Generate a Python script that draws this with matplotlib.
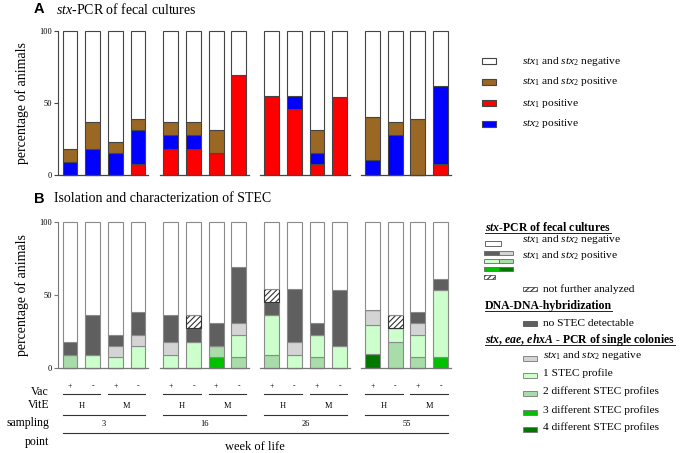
import numpy as np
import matplotlib
matplotlib.use('Agg')
import matplotlib.pyplot as plt
from matplotlib.patches import Rectangle
from matplotlib.transforms import blended_transform_factory

plt.rcParams['font.family'] = 'Liberation Serif'
plt.rcParams['mathtext.fontset'] = 'custom'
plt.rcParams['mathtext.rm'] = 'Liberation Serif'
plt.rcParams['mathtext.it'] = 'Liberation Serif:italic'
plt.rcParams['mathtext.bf'] = 'Liberation Serif:bold'
plt.rcParams['mathtext.bfit'] = 'Liberation Serif:bold:italic'
plt.rcParams['hatch.linewidth'] = 0.8

weeks = ['3', '16', '26', '55']
vite = ['H', 'M']
vac = ['+', '-']

# panel A: % of animals, 16 bars (week x VitE x Vac)
a_stx1 = [0, 0, 0, 7.7, 18.2, 18.2, 15.4, 69.2, 54.5, 45.5, 7.7, 53.8, 0, 0, 0, 7.7]
a_stx2 = [9.1, 18.2, 15.4, 23.1, 9.1, 9.1, 0, 0, 0, 9.1, 7.7, 0, 10, 27.3, 0, 53.8]
a_both = [9.1, 18.2, 7.7, 7.7, 9.1, 9.1, 15.4, 0, 0, 0, 15.4, 0, 30, 9.1, 38.5, 0]

# panel B
b_prof4 = [0, 0, 0, 0, 0, 0, 0, 0, 0, 0, 0, 0, 10, 0, 0, 0]
b_prof3 = [0, 0, 0, 0, 0, 0, 7.7, 0, 0, 0, 0, 0, 0, 0, 0, 7.7]
b_prof2 = [9.1, 0, 0, 0, 0, 0, 7.7, 7.7, 9.1, 0, 7.7, 0, 0, 18.2, 7.7, 0]
b_prof1 = [0, 9.1, 7.7, 15.4, 9.1, 18.2, 0, 15.4, 27.3, 9.1, 15.4, 15.4, 20, 9.1, 15.4, 46.1]
b_neg = [0, 0, 7.7, 7.7, 9.1, 0, 0, 7.7, 0, 9.1, 0, 0, 10, 0, 7.7, 0]
b_nostec = [9.1, 27.3, 7.7, 15.4, 18.2, 9.1, 15.4, 38.5, 9.1, 36.4, 7.7, 38.5, 0, 0, 7.7, 7.7]
b_nfa = [0, 0, 0, 0, 0, 9.1, 0, 0, 9.1, 0, 0, 0, 0, 9.1, 0, 0]

BROWN, RED, BLUE = '#9a6824', '#ff0000', '#0000ff'
DGRAY, LGRAY = '#5f5f5f', '#d4d4d4'
G1, G2, G3, G4 = '#ccffcc', '#a8dca8', '#00c000', '#007800'

x = np.array([g * 4.45 + i for g in range(4) for i in range(4)])
W = 0.66
FS = 8.2  # legend text size

fig = plt.figure(figsize=(6.85, 4.53), dpi=100)
ov = fig.add_axes([0, 0, 1, 1])
ov.set_xlim(0, 685)
ov.set_ylim(453, 0)
ov.set_axis_off()

ax_a = fig.add_axes([58 / 685, 1 - 174.7 / 453, 397 / 685, 143.7 / 453])
ax_b = fig.add_axes([58 / 685, 1 - 368.3 / 453, 397 / 685, 146 / 453])


def stack(ax, layers, edge):
    bottom = np.zeros(len(x))
    for vals, col, hatch in layers:
        vals = np.array(vals, dtype=float)
        ec = '#333333' if hatch else edge
        ax.bar(x, vals, W, bottom=bottom, color=col, edgecolor=ec, lw=0.8,
               hatch=hatch, clip_on=False)
        bottom += vals
    ax.bar(x, 100 - bottom, W, bottom=bottom, color='white', edgecolor=edge,
           lw=0.8, clip_on=False)


stack(ax_a, [(a_stx1, RED, None), (a_stx2, BLUE, None), (a_both, BROWN, None)], '#444444')
stack(ax_b, [(b_prof4, G4, None), (b_prof3, G3, None), (b_prof2, G2, None),
             (b_prof1, G1, None), (b_neg, LGRAY, None), (b_nostec, DGRAY, None),
             (b_nfa, 'white', '//////')], '#8a8a8a')

for ax, col in ((ax_a, '#444444'), (ax_b, '#777777')):
    ax.set_xlim(-0.53, 16.99)
    ax.set_ylim(0, 100)
    for s in ('top', 'right', 'bottom'):
        ax.spines[s].set_visible(False)
    ax.spines['left'].set_color(col)
    ax.spines['left'].set_linewidth(0.8)
    ax.set_xticks([])
    ax.set_yticks([0, 50, 100])
    ax.tick_params(axis='y', labelsize=6, length=3, width=0.8, color=col, pad=1.5)
    for g in range(4):
        ax.plot([g * 4.45 - 0.5, g * 4.45 + 3.45], [0, 0], color=col, lw=0.9,
                clip_on=False)
    ax.set_ylabel('percentage of animals', fontsize=10)
    ax.yaxis.set_label_coords(-0.072, 0.5)

# panel titles
ov.text(34, 9, 'A', family='Liberation Sans', weight='bold', size=10.5, va='center')
ov.text(56, 9, r'$\mathit{stx}$-PCR of fecal cultures', size=10, va='center')
ov.text(34, 199, 'B', family='Liberation Sans', weight='bold', size=10.5, va='center')
ov.text(54, 199, 'Isolation and characterization of STEC', size=10, va='center')

# legend A
neg = r'$\mathit{stx}_1$ and $\mathit{stx}_2$ negative'
leg_a = [(neg, 'white'),
         (r'$\mathit{stx}_1$ and $\mathit{stx}_2$ positive', BROWN),
         (r'$\mathit{stx}_1$ positive', RED),
         (r'$\mathit{stx}_2$ positive', BLUE)]
for row, (lab, col) in enumerate(leg_a):
    y = 61 + row * 21
    ov.add_patch(Rectangle((482, y - 3), 14, 6, fc=col, ec='#444444', lw=0.8))
    ov.text(522, y, lab, size=FS, va='center')

# legend B
heads = []
heads.append(ov.text(485, 231, r'$\mathbfit{stx}$-PCR of fecal cultures',
                     size=8.5, weight='bold', va='baseline'))
ov.add_patch(Rectangle((485, 241), 16, 5, fc='white', ec='#666666', lw=0.7))
ov.text(522, 239, neg, size=FS, va='center')
for yy, (c1, c2) in zip([251, 259, 267], [(DGRAY, LGRAY), (G1, G2), (G3, G4)]):
    ov.add_patch(Rectangle((484, yy), 15, 4, fc=c1, ec='#666666', lw=0.6))
    ov.add_patch(Rectangle((499, yy), 14, 4, fc=c2, ec='#666666', lw=0.6))
ov.add_patch(Rectangle((484, 275), 11, 3.5, fc='white', ec='#333333', lw=0.5, hatch='//////'))
ov.text(522, 256, r'$\mathit{stx}_1$ and $\mathit{stx}_2$ positive', size=FS, va='center')

ov.add_patch(Rectangle((523, 287), 14, 4, fc='white', ec='#333333', lw=0.5, hatch='//////'))
ov.text(543, 289, 'not further analyzed', size=FS, va='center')

heads.append(ov.text(485, 309, 'DNA-DNA-hybridization', size=8.5, weight='bold',
                     va='baseline'))
ov.add_patch(Rectangle((523, 321), 14, 5, fc=DGRAY, ec='#555555', lw=0.6))
ov.text(543, 323, 'no STEC detectable', size=FS, va='center')

heads.append(ov.text(485, 343,
                     r'$\mathbfit{stx}$, $\mathbfit{eae}$, $\mathbfit{ehxA}$ - PCR of single colonies',
                     size=8.5, weight='bold', va='baseline'))
leg_b = [(neg, LGRAY), ('1 STEC profile', G1), ('2 different STEC profiles', G2),
         ('3 different STEC profiles', G3), ('4 different STEC profiles', G4)]
for (lab, col), yy in zip(leg_b, [356, 373, 391, 410, 427]):
    ov.add_patch(Rectangle((523, yy), 14, 4.5, fc=col, ec='#777777', lw=0.6))
    ov.text(543, yy, lab, size=FS, va='center')

# grouping rows under panel B
tr = blended_transform_factory(ax_b.transData, ov.transData)
kw = dict(color='#333333', lw=0.8, clip_on=False, transform=tr)
for k, xk in enumerate(x):
    ax_b.text(xk, 386, vac[k % 2], size=5.5, ha='center', va='center', transform=tr)
for p in range(8):
    ax_b.plot([x[2 * p] - W / 2, x[2 * p + 1] + W / 2], [394, 394], **kw)
    ax_b.text((x[2 * p] + x[2 * p + 1]) / 2, 406, vite[p % 2], size=6,
              ha='center', va='center', transform=tr)
for g in range(4):
    ax_b.plot([x[4 * g] - W / 2, x[4 * g + 3] + W / 2], [415, 415], **kw)
    ax_b.text(x[4 * g:4 * g + 4].mean(), 424, weeks[g], size=6,
              ha='center', va='center', transform=tr)
ax_b.plot([x[0] - W / 2, x[-1] + W / 2], [433, 433], **kw)
ax_b.text(x.mean(), 447, 'week of life', size=9, ha='center', va='center',
          transform=tr)

for lab, yy in (('Vac', 392), ('VitE', 405), ('sampling', 423), ('point', 442)):
    ov.text(49, yy, lab, size=8.5, ha='right', va='center')

# underline the legend headings
fig.canvas.draw()
inv = ov.transData.inverted()
for t in heads:
    bb = t.get_window_extent()
    x0 = inv.transform((bb.x0, bb.y0))[0]
    x1 = inv.transform((bb.x1, bb.y0))[0]
    ty = t.get_position()[1] + 1.8
    ov.plot([x0, x1], [ty, ty], color='#222222', lw=0.7)

fig.savefig('out.png', dpi=100)
